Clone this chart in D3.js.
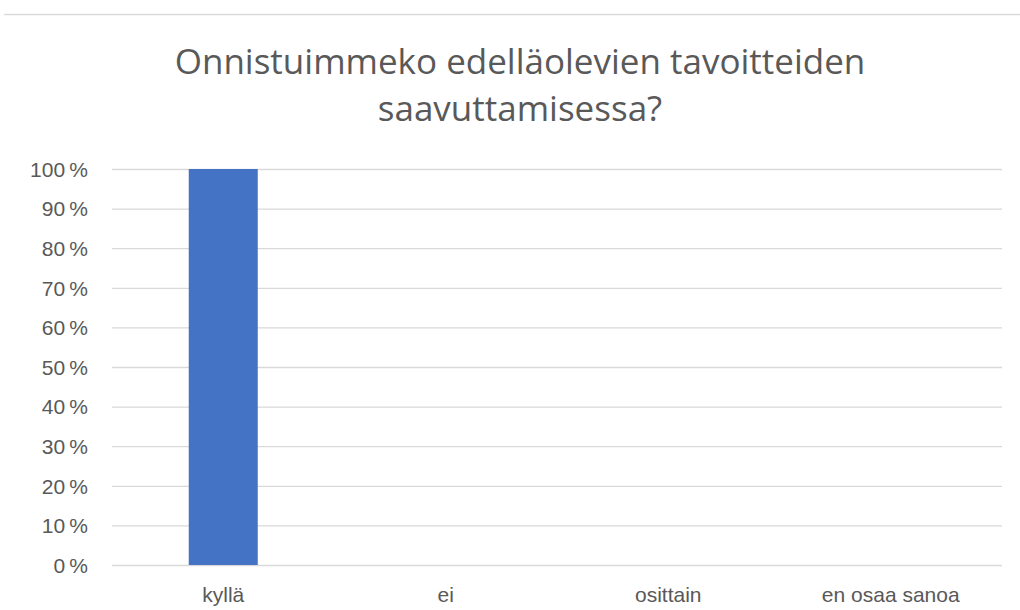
<!DOCTYPE html>
<html>
<head>
<meta charset="utf-8">
<script src="https://cdn.jsdelivr.net/npm/d3@7"></script>
<style>
  body { margin: 0; background: #fff; }
  svg { display: block; font-family: "Open Sans", sans-serif; }
</style>
</head>
<body>
<svg id="chart" width="1020" height="610"></svg>
<script>
// data
const titleLines = ["Onnistuimmeko edelläolevien tavoitteiden", "saavuttamisessa?"];
const categories = ["kyllä", "ei", "osittain", "en osaa sanoa"];
const values = [1.0, 0, 0, 0];
const yTicks = [0, 0.1, 0.2, 0.3, 0.4, 0.5, 0.6, 0.7, 0.8, 0.9, 1.0];

const svg = d3.select("#chart");
const margin = {left: 112, right: 18, top: 169, bottom: 45};
const width = 1020, height = 610;

// top border line
svg.append("line")
  .attr("x1", 4).attr("x2", width)
  .attr("y1", 14.5).attr("y2", 14.5)
  .attr("stroke", "#d9d9d9").attr("stroke-width", 1.5);

const x = d3.scaleBand()
  .domain(categories)
  .range([margin.left, width - margin.right])
  .paddingInner(0).paddingOuter(0);

const y = d3.scaleLinear()
  .domain([0, 1])
  .range([height - margin.bottom, margin.top]);

// title
svg.append("g").selectAll("text")
  .data(titleLines)
  .enter().append("text")
    .attr("x", 520)
    .attr("y", (d, i) => 74 + i * 47)
    .attr("text-anchor", "middle")
    .attr("fill", "#595959")
    .style("font-size", "35px")
    .text(d => d);

// gridlines
const yAxis = d3.axisLeft(y)
  .tickValues(yTicks)
  .tickSize(-(width - margin.left - margin.right))
  .tickPadding(24)
  .tickFormat(d => Math.round(d * 100) + "\u2009%");

svg.append("g")
  .attr("transform", "translate(" + margin.left + ",0)")
  .call(yAxis)
  .call(g => g.select(".domain").remove())
  .call(g => g.selectAll(".tick line").attr("stroke", "#d9d9d9").attr("stroke-width", 1.3))
  .call(g => g.selectAll(".tick text")
    .attr("fill", "#595959")
    .style("font-size", "21px")
    .attr("dy", "0.35em"));

// bars
const barW = 69;
svg.append("g").selectAll("rect")
  .data(categories.map((c, i) => ({c: c, v: values[i]})).filter(d => d.v > 0))
  .enter().append("rect")
    .attr("x", d => x(d.c) + x.bandwidth() / 2 - barW / 2)
    .attr("width", barW)
    .attr("y", d => y(d.v))
    .attr("height", d => y(0) - y(d.v))
    .attr("fill", "#4472c4");

// category labels
const xAxis = d3.axisBottom(x).tickSize(0).tickPadding(22);
svg.append("g")
  .attr("transform", "translate(0," + y(0) + ")")
  .call(xAxis)
  .call(g => g.select(".domain").remove())
  .call(g => g.selectAll(".tick text")
    .attr("fill", "#595959")
    .style("font-size", "21px"));
</script>
</body>
</html>
